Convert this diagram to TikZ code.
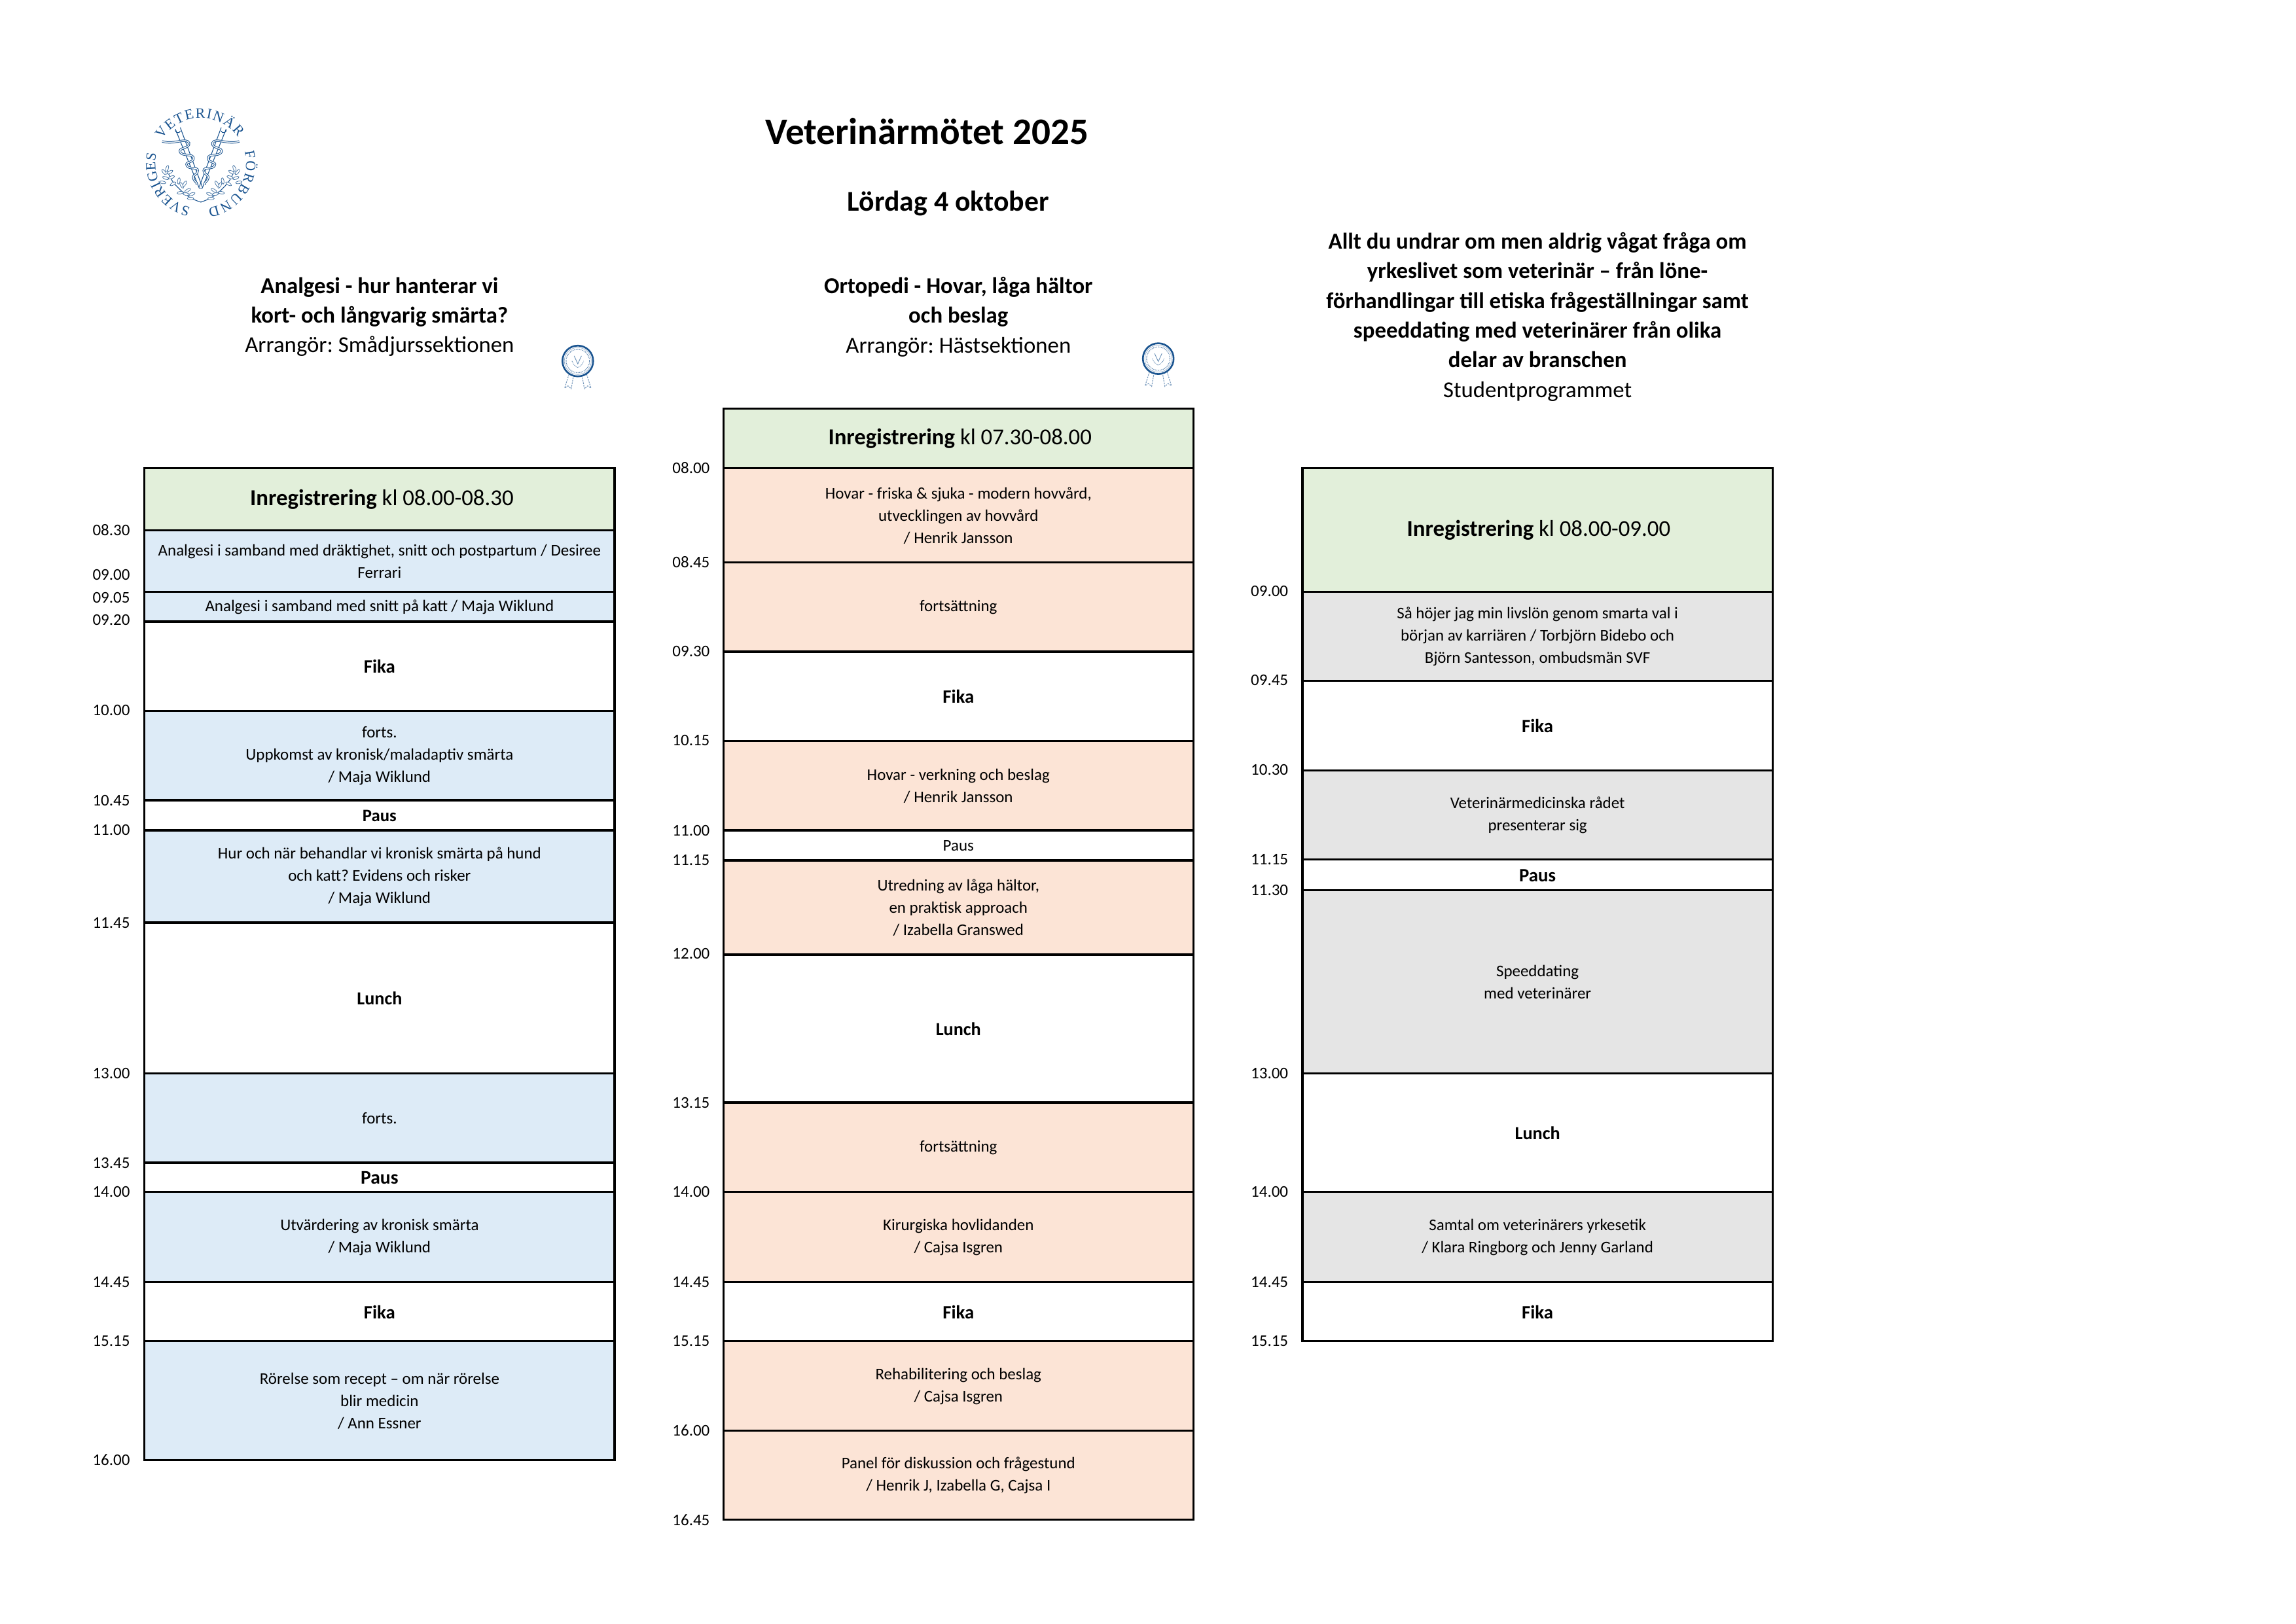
\documentclass[tikz,border=0pt]{standalone}
\usepackage{fontspec}
\setmainfont{Carlito}
\newfontfamily\logofont{Liberation Serif}
\usetikzlibrary{decorations.text}
\definecolor{regcol}{HTML}{E2EFDA}
\definecolor{bluecol}{HTML}{DDEBF7}
\definecolor{peachcol}{HTML}{FCE4D6}
\definecolor{graycol}{HTML}{E5E5E5}
\definecolor{logoblue}{HTML}{1A5490}
\tikzset{
  x=0.022372cm,y=-0.022372cm,
  slotbox/.style={draw=black,line width=0.95pt,inner sep=0pt,outer sep=0pt,minimum width=321*0.022372cm},
  slottext/.style={inner sep=0pt,align=center,text=black,font=\frenchspacing\fontsize{7.1}{9.7}\selectfont},
  timelabel/.style={anchor=east,inner sep=0pt,font=\fontsize{7.1}{9.7}\selectfont},
  headlabel/.style={align=center,inner sep=0pt,font=\frenchspacing\fontsize{9.9}{12.9}\selectfont},
  logotext/.style={decoration={text along path,text color=logoblue,text align={fit to path},text={|\logofont\fontsize{6.2}{6.2}\selectfont|#1}},decorate},
  logoline/.style={draw=logoblue,line width=0.3pt},
  snake/.style={draw=logoblue,line width=0.28pt,double=white,double distance=0.4pt},
  ribbon/.style={draw=logoblue!60,line width=0.3pt,dash pattern=on 0.7pt off 0.4pt},
}
\newcommand{\slot}[6]{%
  \node[slotbox,fill=#5,minimum height={(#4-#3)*0.022372cm}] (#1) at (#2,{(#3+#4)/2+0.2}) {};
  \node[slottext] (#1t) at (#2,{(#3+#4)/2+0.45}) {#6};}
\newcommand{\timeat}[4]{\node[timelabel] (#1) at (#2,#3+0.3) {#4};}
\newcommand{\seal}[3]{
  \begin{scope}[shift={(#2,#3)}]
    \draw[ribbon] (-6,9) -- (-9,18.5) -- (-6.7,17) -- (-4.5,19) -- (-3,10.5);
    \draw[ribbon] (6,9) -- (9,18.5) -- (6.7,17) -- (4.5,19) -- (3,10.5);
    \node[circle,draw=logoblue,fill=white,line width=0.75pt,dash pattern=on 0.5pt off 0.05pt,minimum size=21*0.022372cm,inner sep=0pt] (#1) at (0,0) {};
    \draw[logoblue!70,line width=0.35pt,dash pattern=on 0.35pt off 0.35pt] (0,0) circle (8);
    \draw[logoblue!45,line width=0.2pt] (0,0) circle (9.2);
    \draw[logoblue!65,line width=0.25pt] (-2.5,-3.5) -- (0,2) -- (2.5,-3.5);
    \draw[logoblue!65,line width=0.25pt,dash pattern=on 0.4pt off 0.3pt] (-4,0) .. controls (-3,3) and (-1,4) .. (0,4.5) .. controls (1,4) and (3,3) .. (4,0);
  \end{scope}
}
\begin{document}
\begin{tikzpicture}
\useasboundingbox[fill=white] (0,0) rectangle (1568,1108.96);

% logo
\begin{scope}[shift={(137.1,111.6)}]
  \path[logotext=SVERIGES] (-257:31) arc[start angle=-257,end angle=-167,radius=31];
  \path[logotext=VETERINÄR] (-148:31) arc[start angle=-148,end angle=-35,radius=31];
  \path[logotext=FÖRBUND] (-15:31) arc[start angle=-15,end angle=81,radius=31];
  \foreach \s in {1,-1}{
    \begin{scope}[xscale=\s]
      \draw[logoline] (-17.3,-23.3) -- (-1,17) -- (0,17);
      \draw[logoline] (-14,-24.5) -- (1,16);
      \draw[logoline] (-17.3,-23.3) arc[start angle=200,end angle=20,radius=1.8];
      \draw[snake] (-26.3,-15) .. controls (-18,-12.5) and (-10,-18) .. (-8,-14)
        .. controls (-7,-10) and (-16,-11) .. (-14,-7.5)
        .. controls (-12,-4.5) and (-5,-7) .. (-5,-3.5)
        .. controls (-5,0) and (-11,-1.5) .. (-9.5,1.5)
        .. controls (-8,4.5) and (-2,2) .. (-2,5)
        .. controls (-2,8) and (-6,7.5) .. (-5,10.4)
        .. controls (-4.5,12.5) and (-2.5,12.5) .. (-2.5,14.7);
      \draw[logoline] (0.5,26.5) .. controls (-6,25) and (-11,21) .. (-13,19)
        .. controls (-17,15) and (-21,12) .. (-23,3.6);
      \foreach \lx/\ly/\la in {-23/3.5/70,-25/6/130,-21/6/30,-24/10/160,-20/9.5/20,-26/13/170,-19/14/30,-15/12/80,-13/15/120,-11/14/60,-14/20/190,-9/18.5/30,-10/21/170,-6/21/20,-7/24/180}{
        \draw[logoblue!85,line width=0.2pt,fill=white,rotate around={\la:(\lx,\ly)}] (\lx,\ly) ellipse (2.2 and 0.9);
      }
    \end{scope}
  }
\end{scope}

% titles
\node[inner sep=0pt,font=\bfseries\fontsize{16.25}{20}\selectfont] (title) at (633,89.5) {Veterinärmötet 2025};
\node[inner sep=0pt,font=\bfseries\fontsize{12.45}{16}\selectfont] (subtitle) at (647.5,139) {Lördag 4 oktober};

% column headers
\node[headlabel] (head1) at (259.2,216.4) {\textbf{Analgesi - hur hanterar vi}\\\textbf{kort- och långvarig smärta?}\\Arrangör: Smådjurssektionen};
\node[headlabel] (head2) at (654.5,216.4) {\textbf{Ortopedi - Hovar, låga hältor}\\\textbf{och beslag}\\Arrangör: Hästsektionen};
\node[headlabel] (head3) at (1050,216.4) {\textbf{Allt du undrar om men aldrig vågat fråga om}\\\textbf{yrkeslivet som veterinär – från löne-}\\\textbf{förhandlingar till etiska frågeställningar samt}\\\textbf{speeddating med veterinärer från olika}\\\textbf{delar av branschen}\\Studentprogrammet};

\seal{seal1}{394.6}{246.6}
\seal{seal2}{791}{245}

% column 1
\slot{a1}{259.2}{319.5}{362}{regcol}{\fontsize{9.9}{12.9}\selectfont\hspace*{2pt}\textbf{Inregistrering} kl 08.00-08.30}
\slot{a2}{259.2}{362}{404}{bluecol}{Analgesi i samband med dräktighet, snitt och postpartum / Desiree\\Ferrari}
\slot{a3}{259.2}{404}{424.5}{bluecol}{Analgesi i samband med snitt på katt / Maja Wiklund}
\slot{a4}{259.2}{424.5}{485.5}{white}{\fontsize{8.2}{9.7}\selectfont\textbf{Fika}}
\slot{a5}{259.2}{485.5}{546.5}{bluecol}{forts.\\Uppkomst av kronisk/maladaptiv smärta\\/ Maja Wiklund}
\slot{a6}{259.2}{546.5}{567}{white}{\fontsize{7.6}{9.7}\selectfont\textbf{Paus}}
\slot{a7}{259.2}{567}{630}{bluecol}{Hur och när behandlar vi kronisk smärta på hund\\och katt? Evidens och risker\\/ Maja Wiklund}
\slot{a8}{259.2}{630}{733}{white}{\fontsize{8}{9.7}\selectfont\textbf{Lunch}}
\slot{a9}{259.2}{733}{794}{bluecol}{forts.}
\slot{a10}{259.2}{794}{814}{white}{\fontsize{8.4}{11}\selectfont\textbf{Paus}}
\slot{a11}{259.2}{814}{875.5}{bluecol}{Utvärdering av kronisk smärta\\/ Maja Wiklund}
\slot{a12}{259.2}{875.5}{916}{white}{\fontsize{8.2}{9.7}\selectfont\textbf{Fika}}
\slot{a13}{259.2}{916}{997.2}{bluecol}{Rörelse som recept – om när rörelse\\blir medicin\\/ Ann Essner}

\timeat{ta1}{89}{362}{08.30}
\timeat{ta2}{89}{392.5}{09.00}
\timeat{ta3}{89}{408}{09.05}
\timeat{ta4}{89}{423}{09.20}
\timeat{ta5}{89}{485}{10.00}
\timeat{ta6}{89}{546.5}{10.45}
\timeat{ta7}{89}{566.5}{11.00}
\timeat{ta8}{89}{630}{11.45}
\timeat{ta9}{89}{733}{13.00}
\timeat{ta10}{89}{794}{13.45}
\timeat{ta11}{89}{814}{14.00}
\timeat{ta12}{89}{875.5}{14.45}
\timeat{ta13}{89}{916}{15.15}
\timeat{ta14}{89}{997}{16.00}

% column 2
\slot{b1}{654.5}{279}{319.5}{regcol}{\fontsize{9.9}{12.9}\selectfont\hspace*{1.4pt}\textbf{Inregistrering} kl 07.30-08.00}
\slot{b2}{654.5}{319.5}{384}{peachcol}{Hovar - friska \& sjuka - modern hovvård,\\utvecklingen av hovvård\\/ Henrik Jansson}
\slot{b3}{654.5}{384}{445}{peachcol}{fortsättning}
\slot{b4}{654.5}{445}{506}{white}{\fontsize{8.2}{9.7}\selectfont\textbf{Fika}}
\slot{b5}{654.5}{506}{567}{peachcol}{Hovar - verkning och beslag\\/ Henrik Jansson}
\slot{b6}{654.5}{567}{587.5}{white}{Paus}
\slot{b7}{654.5}{587.5}{652}{peachcol}{Utredning av låga hältor,\\en praktisk approach\\/ Izabella Granswed}
\slot{b8}{654.5}{652}{753}{white}{\fontsize{8}{9.7}\selectfont\textbf{Lunch}}
\slot{b9}{654.5}{753}{814}{peachcol}{fortsättning}
\slot{b10}{654.5}{814}{875.5}{peachcol}{Kirurgiska hovlidanden\\/ Cajsa Isgren}
\slot{b11}{654.5}{875.5}{916}{white}{\fontsize{8.2}{9.7}\selectfont\textbf{Fika}}
\slot{b12}{654.5}{916}{977}{peachcol}{Rehabilitering och beslag\\/ Cajsa Isgren}
\slot{b13}{654.5}{977}{1038}{peachcol}{Panel för diskussion och frågestund\\/ Henrik J, Izabella G, Cajsa I}

\timeat{tb1}{485}{319.5}{08.00}
\timeat{tb2}{485}{383.5}{08.45}
\timeat{tb3}{485}{444.5}{09.30}
\timeat{tb4}{485}{505.5}{10.15}
\timeat{tb5}{485}{567}{11.00}
\timeat{tb6}{485}{587.5}{11.15}
\timeat{tb7}{485}{651}{12.00}
\timeat{tb8}{485}{753}{13.15}
\timeat{tb9}{485}{814}{14.00}
\timeat{tb10}{485}{875.5}{14.45}
\timeat{tb11}{485}{916}{15.15}
\timeat{tb12}{485}{977}{16.00}
\timeat{tb13}{485}{1038}{16.45}

% column 3
\slot{c1}{1050}{319.5}{404}{regcol}{\fontsize{9.9}{12.9}\selectfont\hspace*{1pt}\textbf{Inregistrering} kl 08.00-09.00}
\slot{c2}{1050}{404}{465}{graycol}{Så höjer jag min livslön genom smarta val i\\början av karriären / Torbjörn Bidebo och\\Björn Santesson, ombudsmän SVF}
\slot{c3}{1050}{465}{526}{white}{\fontsize{8.2}{9.7}\selectfont\textbf{Fika}}
\slot{c4}{1050}{526}{587}{graycol}{Veterinärmedicinska rådet\\presenterar sig}
\slot{c5}{1050}{587}{608}{white}{\fontsize{8.2}{11}\selectfont\textbf{Paus}}
\slot{c6}{1050}{608}{733}{graycol}{Speeddating\\med veterinärer}
\slot{c7}{1050}{733}{814}{white}{\fontsize{8}{9.7}\selectfont\textbf{Lunch}}
\slot{c8}{1050}{814}{875.5}{graycol}{Samtal om veterinärers yrkesetik\\/ Klara Ringborg och Jenny Garland}
\slot{c9}{1050}{875.5}{916}{white}{\fontsize{8.2}{9.7}\selectfont\textbf{Fika}}

\timeat{tc1}{880}{403.5}{09.00}
\timeat{tc2}{880}{464.5}{09.45}
\timeat{tc3}{880}{525.5}{10.30}
\timeat{tc4}{880}{587}{11.15}
\timeat{tc5}{880}{608}{11.30}
\timeat{tc6}{880}{733}{13.00}
\timeat{tc7}{880}{814}{14.00}
\timeat{tc8}{880}{875.5}{14.45}
\timeat{tc9}{880}{916}{15.15}
\end{tikzpicture}
\end{document}
